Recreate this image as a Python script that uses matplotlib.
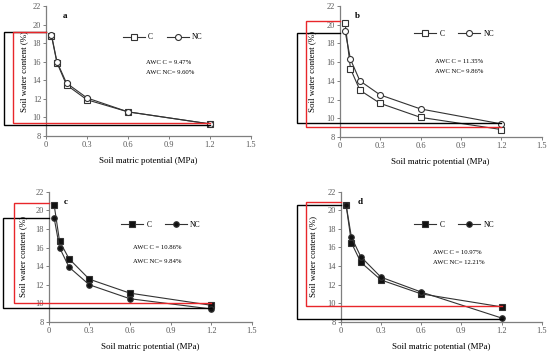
import matplotlib
matplotlib.use('Agg')
import matplotlib.pyplot as plt

plt.rcParams['font.family'] = ['Liberation Serif', 'DejaVu Serif']

# soil matric potential (MPa)
x_mpa = [0.04, 0.08, 0.15, 0.3, 0.6, 1.2]

# soil water content (%) per panel
a_c = [18.8, 15.9, 13.5, 11.9, 10.6, 9.3]
a_nc = [18.9, 16.0, 13.7, 12.1, 10.6, 9.3]
b_c = [20.2, 15.3, 13.0, 11.6, 10.1, 8.8]
b_nc = [19.3, 16.3, 14.0, 12.5, 11.0, 9.4]
c_c = [20.6, 16.7, 14.8, 12.6, 11.1, 9.8]
c_nc = [19.2, 16.0, 13.9, 12.0, 10.5, 9.4]
d_c = [20.6, 16.5, 14.4, 12.5, 11.0, 9.6]
d_nc = [20.6, 17.1, 15.0, 12.8, 11.2, 8.4]

panel_letters = ['a', 'b', 'c', 'd']
awc_c = ['9.47%', '11.35%', '10.86%', '10.97%']
awc_nc = ['9.60%', '9.86%', '9.84%', '12.21%']

# bracket levels (upper, lower) drawn on the left of each panel
black_lvl = [(19.2, 9.19), (19.08, 9.53), (19.21, 9.47), (20.57, 8.3)]
red_lvl = [(19.2, 9.44), (20.43, 9.1), (20.75, 10.0), (20.86, 9.73)]

xticks = [0, 0.3, 0.6, 0.9, 1.2, 1.5]
xticklabels = ['0', '0.3', '0.6', '0.9', '1.2', '1.5']
yticks = [8, 10, 12, 14, 16, 18, 20, 22]

series = [(a_c, a_nc), (b_c, b_nc), (c_c, c_nc), (d_c, d_nc)]

W, H = 550, 354
fig = plt.figure(figsize=(W / 100, H / 100), dpi=100)

# pixel boxes: left, top, right, bottom
boxes = [(46, 6, 251, 136), (339.7, 6, 541.7, 137),
         (48.7, 191.7, 251.7, 322), (340.7, 191.7, 541.7, 321.7)]
ylab_x = [-0.086, -0.114, -0.108, -0.116]
leg_pos = [(0.57, 0.76), (0.566, 0.79), (0.553, 0.747), (0.564, 0.746)]
awc_pos = [(0.486, 0.567, 0.487), (0.472, 0.58, 0.498),
           (0.417, 0.568, 0.468), (0.458, 0.536, 0.459)]
letter_pos = [(0.084, 0.925), (0.076, 0.926), (0.072, 0.92), (0.083, 0.92)]
black_left = [-0.31, -0.315, -0.335, -0.324]
red_left = [-0.24, -0.25, -0.26, -0.259]

gray = '#7f7f7f'
for i in range(4):
    l, t, r, b = boxes[i]
    ax = fig.add_axes([l / W, 1 - b / H, (r - l) / W, (b - t) / H])
    yc, ync = series[i]
    filled = i >= 2
    fc = '#111111' if filled else 'white'
    ms = 4.0 if filled else 4.3
    ax.plot(x_mpa, yc, color='#333333', lw=0.8, marker='s', ms=ms,
            mfc=fc, mec='#333333', mew=0.8, label='C', zorder=3)
    ax.plot(x_mpa, ync, color='#333333', lw=0.8, marker='o', ms=ms,
            mfc=fc, mec='#333333', mew=0.8, label='NC', zorder=3)

    ax.set_xlim(0, 1.5)
    ax.set_ylim(8, 22)
    ax.set_xticks(xticks)
    ax.set_xticklabels(xticklabels)
    ax.set_yticks(yticks)
    for s in ['top', 'right']:
        ax.spines[s].set_visible(False)
    for s in ['left', 'bottom']:
        ax.spines[s].set_color(gray)
        ax.spines[s].set_linewidth(0.9)
    ax.tick_params(length=2, width=0.7, color=gray, labelsize=6,
                   labelcolor='#595959', pad=1.5)

    ax.set_xlabel('Soil matric potential (MPa)', fontsize=6.5, va='center')
    ax.xaxis.set_label_coords(0.5, -25 / (b - t))
    ax.set_ylabel('Soil water content (%)', fontsize=6.5)
    ax.yaxis.set_label_coords(ylab_x[i], 0.5)

    leg = ax.legend(loc='center', bbox_to_anchor=leg_pos[i], ncol=2,
                    frameon=False, fontsize=5.5, handlelength=2.9,
                    handletextpad=0.4, columnspacing=1.8)

    ax_, y1, y2 = awc_pos[i]
    ax.text(ax_, y1, 'AWC C = ' + awc_c[i], transform=ax.transAxes,
            fontsize=4.8, va='center')
    ax.text(ax_, y2, 'AWC NC= ' + awc_nc[i], transform=ax.transAxes,
            fontsize=4.8, va='center')
    ax.text(letter_pos[i][0], letter_pos[i][1], panel_letters[i],
            transform=ax.transAxes, fontsize=6.5, fontweight='bold',
            va='center')

    # brackets
    for lvl, x0, col, z in [(black_lvl[i], black_left[i], 'black', 5),
                            (red_lvl[i], red_left[i], '#e8262a', 6)]:
        top, low = lvl
        ax.plot([0, x0, x0, 1.2], [top, top, low, low], color=col, lw=1.0,
                clip_on=False, zorder=z, solid_joinstyle='miter')

fig.savefig('out.png', dpi=100)
